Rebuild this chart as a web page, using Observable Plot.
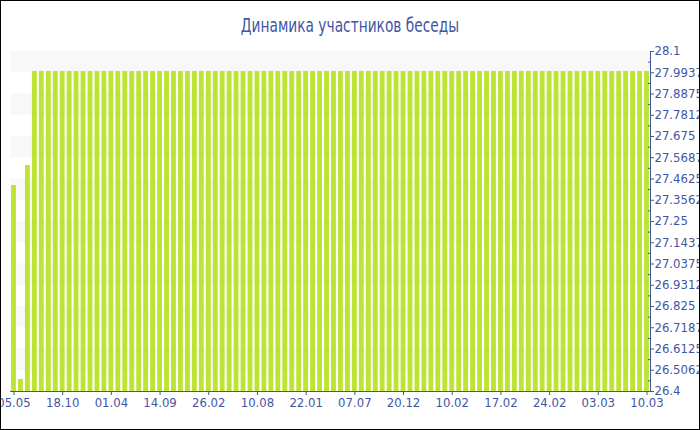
<!DOCTYPE html>
<html>
<head>
<meta charset="utf-8">
<script src="https://cdn.jsdelivr.net/npm/d3@7"></script>
<script src="https://cdn.jsdelivr.net/npm/@observablehq/plot@0.6"></script>
<style>
  html, body { margin: 0; padding: 0; background: #fff; }
  #wrap { position: relative; width: 700px; height: 430px; overflow: hidden; background: #fff; }
  #title { position: absolute; left: 0; top: 15px; width: 700px; height: 20px; line-height: 20px;
           text-align: center; font-family: "Liberation Sans Narrow", "DejaVu Sans Condensed", sans-serif;
           font-size: 19px; color: #3f56a3; white-space: nowrap;
           transform: scaleX(0.805); transform-origin: 350px 50%; }
  #chart { position: absolute; left: 0; top: 40px; }
  #border { position: absolute; left: 0; top: 0; width: 700px; height: 430px; box-sizing: border-box;
            border: 1px solid #000; pointer-events: none; }
</style>
</head>
<body>
<div id="wrap">
  <div id="title">Динамика участников беседы</div>
  <div id="chart"></div>
  <div id="border"></div>
</div>
<script>
// ---- data ----
const values = [
  27.43, 26.46, 27.53, 28, 28, 28, 28, 28, 28, 28,
  28, 28, 28, 28, 28, 28, 28, 28, 28, 28,
  28, 28, 28, 28, 28, 28, 28, 28, 28, 28,
  28, 28, 28, 28, 28, 28, 28, 28, 28, 28,
  28, 28, 28, 28, 28, 28, 28, 28, 28, 28,
  28, 28, 28, 28, 28, 28, 28, 28, 28, 28,
  28, 28, 28, 28, 28, 28, 28, 28, 28, 28,
  28, 28, 28, 28, 28, 28, 28, 28, 28, 28,
  28, 28, 28, 28, 28, 28, 28, 28, 28, 28,
  28, 28
];
const tickIndex = [0, 7, 14, 21, 28, 35, 42, 49, 56, 63, 70, 77, 84, 91];
const tickLabels = ["05.05", "18.10", "01.04", "14.09", "26.02", "10.08", "22.01",
                    "07.07", "20.12", "10.02", "17.02", "24.02", "03.03", "10.03"];
const yTicks = [26.4, 26.50625, 26.6125, 26.71875, 26.825, 26.93125, 27.0375, 27.14375,
                27.25, 27.35625, 27.4625, 27.56875, 27.675, 27.78125, 27.8875, 27.99375, 28.1];
const yTickLabels = ["26.4", "26.5062", "26.6125", "26.7187", "26.825", "26.9312", "27.0375", "27.1437",
                     "27.25", "27.3562", "27.4625", "27.5687", "27.675", "27.7812", "27.8875", "27.9937", "28.1"];
const yMinor = [26.453125, 26.559375, 26.665625, 26.771875, 26.878125, 26.984375, 27.090625, 27.196875,
                27.303125, 27.409375, 27.515625, 27.621875, 27.728125, 27.834375, 27.940625, 28.046875];
const yMin = 26.4, yMax = 28.1;

// ---- derived tables ----
const bars = values.map((v, i) => ({i, v}));
const bands = [];
for (let k = yTicks.length - 1; k > 0; k -= 2) bands.push({lo: yTicks[k - 1], hi: yTicks[k]});

const blue = "#3f56a3";
const marks = [
  Plot.barY(bands, {y1: "lo", y2: "hi", fill: "#f8f8f8"}),
  Plot.barY(bars, {x: "i", y1: yMin, y2: "v", fill: "#bde334"})
];
if (Plot.axisY) {
  marks.push(Plot.axisY(yMinor, {anchor: "right", tickSize: -3, tickFormat: () => "", stroke: blue}));
}

const chart = Plot.plot({
  width: 700,
  height: 390,
  marginTop: 11,
  marginBottom: 39,
  marginLeft: 10,
  marginRight: 50,
  style: {fontFamily: "DejaVu Sans", fontSize: "11.7px", color: blue, background: "transparent", overflow: "visible"},
  x: {type: "band", domain: bars.map(d => d.i), paddingInner: 0.3, paddingOuter: 0.15,
      ticks: tickIndex, tickFormat: i => tickLabels[tickIndex.indexOf(i)], tickSize: 4, tickPadding: 3,
      line: true, label: null},
  y: {domain: [yMin, yMax], axis: "right", ticks: yTicks,
      tickFormat: d => yTickLabels[yTicks.indexOf(d)],
      tickSize: 3, tickPadding: 1, line: true, label: null},
  marks
});
document.getElementById("chart").appendChild(chart);
</script>
</body>
</html>
